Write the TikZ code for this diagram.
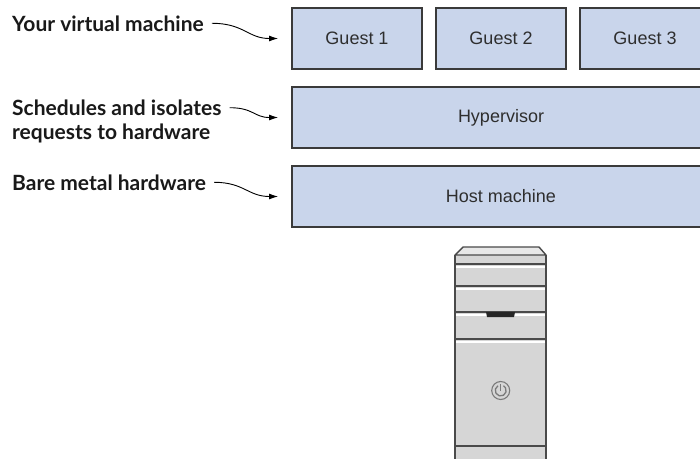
\documentclass[tikz,border=0pt]{standalone}
\usepackage{fontspec}
\setmainfont{Liberation Sans}
\newfontfamily\calloutfont{Lato}
\usetikzlibrary{arrows.meta,positioning}
\definecolor{layerFill}{HTML}{C9D5EB}
\definecolor{layerEdge}{HTML}{3A3A3A}
\definecolor{layerText}{HTML}{2E2E2E}
\definecolor{caseBody}{HTML}{D6D6D6}
\definecolor{caseTop}{HTML}{E8E8E8}
\definecolor{caseEdge}{HTML}{4A4A4A}
\definecolor{caseIcon}{HTML}{7A7A7A}

\begin{document}
\begin{tikzpicture}[x=1pt,y=-1pt,>={Latex[length=9pt,width=6pt]},
  layer/.style={draw=layerEdge,line width=1.2pt,fill=layerFill,text=layerText,
    font=\fontsize{18}{21}\selectfont,minimum height=61pt,inner sep=0pt,outer sep=0pt},
  callout/.style={font=\calloutfont\bfseries\fontsize{21}{24.5}\selectfont,
    text=black!90,align=left,inner sep=0pt,anchor=base west},
  pointer/.style={->,line width=0.9pt}]
  \useasboundingbox (0,0) rectangle (700,458);
  \clip (0,0) rectangle (700,458);

  % layers of the stack
  \node[layer,minimum width=130pt,anchor=north west] (guest1) at (292,8) {Guest 1};
  \node[layer,minimum width=130pt,right=14pt of guest1] (guest2) {Guest 2};
  \node[layer,minimum width=130pt,right=14pt of guest2] (guest3) {Guest 3};
  \node[layer,minimum width=418pt,anchor=north west] (hyper) at (292,87) {Hypervisor};
  \node[layer,minimum width=418pt,below=18pt of hyper] (host) {Host machine};

  % callouts on the left (base of a two-line node is its last line)
  \node[callout] (vmlabel) at (12,31) {Your virtual machine};
  \node[callout] (schedlabel) at (12,139.5) {Schedules and isolates\\requests to hardware};
  \node[callout] (metallabel) at (12,190) {Bare metal hardware};

  \draw[pointer] ([xshift=8pt]vmlabel.east) .. controls +(32pt,0) and +(-30pt,0) .. ([xshift=-14pt]guest1.west);
  \draw[pointer] ([xshift=8pt,yshift=-8.5pt]schedlabel.north east) .. controls +(24pt,0) and +(-24pt,0) .. ([xshift=-14pt]hyper.west);
  \draw[pointer] ([xshift=8pt]metallabel.east) .. controls +(30pt,0) and +(-30pt,0) .. ([xshift=-14pt]host.west);

  % tower case
  \fill[caseBody] (455,255) rectangle (546,470);
  \filldraw[fill=caseTop,draw=caseEdge,line width=1.4pt,line join=round]
    (455,255) -- (463,247) -- (539,247) -- (546,255) -- cycle;
  \foreach \y in {267,289,315,342}
    \draw[white,line width=1.6pt] (456,\y) -- (545,\y);
  \foreach \y in {264,286,312,339,446}
    \draw[caseEdge,line width=1.5pt] (455,\y) -- (546,\y);
  \draw[caseEdge,line width=1.4pt] (455,255) -- (455,470) (546,255) -- (546,470);
  % drive slot
  \fill[black!85] (486,312) -- (515,312) -- (514,317) -- (487,317) -- cycle;
  % power button
  \begin{scope}[shift={(500.7,390.5)},y=1pt]
    \draw[caseIcon,line width=1.1pt] (0,0) circle (9);
    \draw[caseIcon,line width=1.3pt] (120:5.5) arc (120:420:5.5);
    \draw[caseIcon,line width=1.3pt] (0,0) -- (0,7);
  \end{scope}
\end{tikzpicture}
\end{document}
